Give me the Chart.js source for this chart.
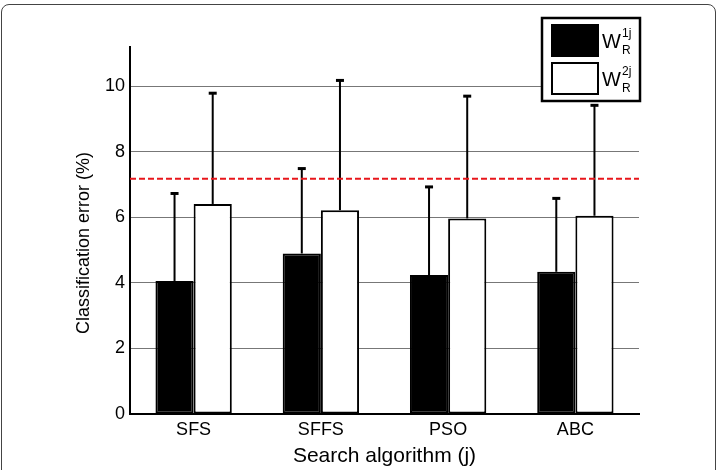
<!DOCTYPE html>
<html>
<head>
<meta charset="utf-8">
<script src="https://cdn.jsdelivr.net/npm/chart.js@4/dist/chart.umd.min.js"></script>
<style>
  html, body { margin: 0; padding: 0; background: #fff; }
  #wrap { position: relative; width: 718px; height: 470px; overflow: hidden; }
  #frame { position: absolute; left: 1px; top: 4px; width: 713px; height: 490px;
           border: 1px solid #444; border-radius: 8px; pointer-events: none; }
</style>
</head>
<body>
<div id="wrap">
  <canvas id="errChart" width="718" height="470"></canvas>
  <div id="frame"></div>
</div>
<script>
const algorithms = ['SFS', 'SFFS', 'PSO', 'ABC'];
const w1Mean = [4.06, 4.90, 4.24, 4.34];
const w1Upper = [6.73, 7.49, 6.93, 6.58];
const w2Mean = [6.41, 6.22, 5.97, 6.05];
const w2Upper = [9.79, 10.18, 9.70, 9.42];
const threshold = 7.18;
const legendSup = ['1j', '2j'];

const FONT = '"Liberation Sans", Arial, Helvetica, sans-serif';

const errorBars = {
  id: 'errorBars',
  afterDatasetsDraw(chart) {
    const ctx = chart.ctx;
    const y = chart.scales.y;
    ctx.save();
    ctx.strokeStyle = '#000';
    chart.data.datasets.forEach((ds, i) => {
      const meta = chart.getDatasetMeta(i);
      meta.data.forEach((bar, j) => {
        const top = y.getPixelForValue(ds.upper[j]);
        ctx.lineWidth = 2;
        ctx.beginPath();
        ctx.moveTo(bar.x, bar.y);
        ctx.lineTo(bar.x, top);
        ctx.stroke();
        ctx.lineWidth = 3;
        ctx.beginPath();
        ctx.moveTo(bar.x - 4, top);
        ctx.lineTo(bar.x + 4, top);
        ctx.stroke();
      });
    });
    // red dashed reference line
    const a = chart.chartArea;
    const ty = y.getPixelForValue(threshold);
    ctx.strokeStyle = '#e8161b';
    ctx.lineWidth = 2;
    ctx.setLineDash([6, 3]);
    ctx.beginPath();
    ctx.moveTo(a.left, ty);
    ctx.lineTo(a.right, ty);
    ctx.stroke();
    ctx.restore();
  },
  afterDraw(chart) {
    // custom legend box, top right
    const ctx = chart.ctx;
    ctx.save();
    ctx.fillStyle = '#fff';
    ctx.fillRect(542, 18, 98, 83);
    ctx.strokeStyle = '#000';
    ctx.lineWidth = 2.5;
    ctx.strokeRect(542, 18, 98, 83);
    chart.data.datasets.forEach((ds, i) => {
      const sy = i === 0 ? 25 : 63;
      ctx.fillStyle = ds.backgroundColor;
      ctx.fillRect(552, sy, 46, 31);
      ctx.lineWidth = 2;
      ctx.strokeRect(552, sy, 46, 31);
      ctx.fillStyle = '#000';
      ctx.textBaseline = 'alphabetic';
      ctx.textAlign = 'left';
      ctx.font = '20px ' + FONT;
      ctx.fillText('W', 602, sy + 23);
      ctx.font = '12px ' + FONT;
      ctx.fillText(legendSup[i], 622, sy + 12);
      ctx.fillText('R', 622, sy + 29);
    });
    ctx.restore();
  }
};

new Chart(document.getElementById('errChart'), {
  type: 'bar',
  data: {
    labels: algorithms,
    datasets: [
      { label: 'W1', data: w1Mean, upper: w1Upper, backgroundColor: '#000', borderColor: '#000', borderWidth: 2 },
      { label: 'W2', data: w2Mean, upper: w2Upper, backgroundColor: '#fff', borderColor: '#000', borderWidth: 2 }
    ]
  },
  options: {
    responsive: false,
    animation: false,
    datasets: { bar: { categoryPercentage: 0.6, barPercentage: 1.0, borderSkipped: false } },
    layout: { padding: { top: 47, right: 79, left: 0, bottom: 0 } },
    plugins: { legend: { display: false }, tooltip: { enabled: false } },
    scales: {
      x: {
        grid: { display: false, drawTicks: false },
        border: { color: '#000', width: 2 },
        ticks: { color: '#000', font: { family: FONT, size: 18 }, padding: 5 },
        title: { display: true, text: 'Search algorithm (j)', color: '#000',
                 font: { family: FONT, size: 21 }, padding: { top: 0, bottom: 1 } },
        afterFit(s) { s.height = 56; }
      },
      y: {
        min: 0, max: 11.2,
        grid: { color: '#777', lineWidth: 1, drawTicks: false },
        border: { color: '#000', width: 2 },
        ticks: { stepSize: 2, includeBounds: false, color: '#000',
                 font: { family: FONT, size: 18 }, padding: 5 },
        title: { display: true, text: 'Classification error (%)     ', color: '#000',
                 font: { family: FONT, size: 18 }, padding: { top: 73, bottom: 0 } },
        afterFit(s) { s.width = 130; }
      }
    }
  },
  plugins: [errorBars]
});
</script>
</body>
</html>
